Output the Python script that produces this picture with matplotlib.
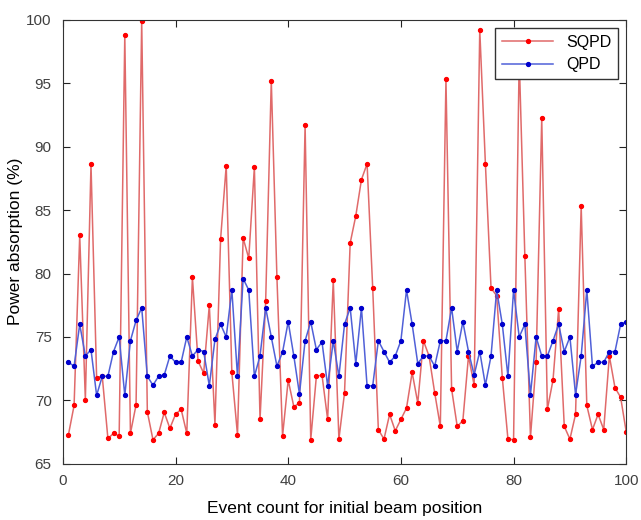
import numpy as np
import matplotlib
matplotlib.use("Agg")
import matplotlib.pyplot as plt

plt.rcParams['font.family'] = ['Liberation Sans', 'DejaVu Sans']

events = np.arange(1, 101)

sqpd = [67.3, 69.6, 83.0, 70.05, 88.6, 71.8, 71.9, 67.0, 67.4, 67.2,
        98.8, 67.4, 69.65, 99.9, 69.1, 66.9, 67.4, 69.05, 67.8, 68.9,
        69.3, 67.4, 79.7, 73.1, 72.15, 77.5, 68.1, 82.7, 88.5, 72.2,
        67.3, 82.8, 81.2, 88.4, 68.5, 77.8, 95.2, 79.7, 67.2, 71.6,
        69.5, 69.8, 91.7, 66.9, 71.9, 72.0, 68.5, 79.45, 66.95, 70.6,
        82.4, 84.55, 87.4, 88.65, 78.85, 67.7, 66.95, 68.9, 67.6, 68.5,
        69.4, 72.2, 69.8, 74.7, 73.5, 70.6, 67.95, 95.3, 70.9, 67.95,
        68.4, 73.5, 71.2, 99.2, 88.65, 78.85, 78.25, 71.8, 66.95, 66.9,
        97.0, 81.4, 67.1, 73.0, 92.25, 69.3, 71.6, 77.2, 67.95, 66.95,
        68.9, 85.3, 69.6, 67.7, 68.9, 67.7, 73.5, 71.0, 70.25, 67.5]

qpd = [73.0, 72.7, 76.0, 73.5, 74.0, 70.4, 71.9, 71.9, 73.85, 75.0,
       70.4, 74.7, 76.3, 77.3, 71.9, 71.2, 71.9, 72.0, 73.5, 73.0,
       73.0, 75.0, 73.5, 74.0, 73.85, 71.15, 74.8, 76.0, 75.0, 78.7,
       71.9, 79.6, 78.7, 71.9, 73.5, 77.3, 75.0, 72.7, 73.8, 76.2,
       73.5, 70.5, 74.7, 76.2, 74.0, 74.6, 71.15, 74.7, 71.9, 76.0,
       77.3, 72.9, 77.3, 71.15, 71.15, 74.7, 73.85, 73.0, 73.5, 74.7,
       78.7, 76.0, 72.9, 73.5, 73.5, 72.7, 74.7, 74.7, 77.3, 73.85,
       76.2, 73.85, 72.0, 73.85, 71.2, 73.5, 78.7, 76.0, 71.9, 78.7,
       75.0, 76.0, 70.45, 75.0, 73.5, 73.5, 74.7, 76.0, 73.85, 75.0,
       70.45, 73.5, 78.7, 72.7, 73.0, 73.0, 73.85, 73.85, 76.0, 76.2]

fig = plt.figure(figsize=(6.41, 5.2), dpi=100)
ax = fig.add_axes([0.098, 0.108, 0.879, 0.854])

ax.plot(events, sqpd, color='#e06a6a', lw=1.1, marker='o', ms=2.8,
        mfc='red', mec='red', label='SQPD')
ax.plot(events, qpd, color='#5060d8', lw=1.1, marker='o', ms=2.8,
        mfc='#0000cc', mec='#0000cc', label='QPD')

ax.set_xlim(0, 100)
ax.set_ylim(65, 100)
ax.set_xticks([0, 20, 40, 60, 80, 100])
ax.set_yticks([65, 70, 75, 80, 85, 90, 95, 100])
ax.tick_params(direction='in', top=True, right=True, labelsize=11,
               colors='#222222', length=5, labelcolor='#404040')
ax.tick_params(axis='y', pad=8)
ax.tick_params(axis='x', pad=7)
for s in ax.spines.values():
    s.set_color('#333333')

ax.set_xlabel('Event count for initial beam position', fontsize=12.5, labelpad=10)
ax.set_ylabel('Power absorption (%)', fontsize=12.5, labelpad=2)

leg = ax.legend(loc='upper right', fancybox=False, edgecolor='#333333',
                framealpha=1, fontsize=11.5, handlelength=3.2,
                borderpad=0.45, labelspacing=0.45, borderaxespad=0.5)
leg.get_frame().set_linewidth(1.0)

fig.savefig('out.png', dpi=100)
